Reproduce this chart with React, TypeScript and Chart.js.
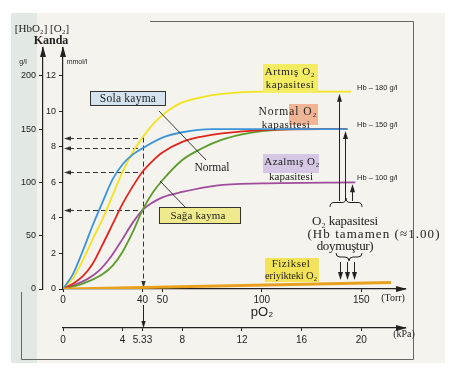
import React, { useEffect, useRef } from 'react';
import { Chart, registerables } from 'chart.js';

Chart.register(...registerables);

// ---- tick labels ----
const torrTickValues = [0, 40, 50, 100, 150];
const kpaTickValues = [0, 4, 5.33, 8, 12, 16, 20];
const glTickValues = [0, 50, 100, 150, 200];
const mmolTickValues = [0, 2, 4, 6, 8, 10, 12];

// ---- series (x: pO2 in Torr, y: g/l) ----
const artmisTorr = [0, 5, 10, 15, 20, 25, 30, 35, 40, 45, 50, 55, 60, 70, 80, 100, 145];
const artmisGl = [0, 10, 27, 47, 66, 88, 110, 128, 142, 154, 163, 170, 175, 180, 183, 185, 185];

const solaTorr = [0, 5, 10, 15, 20, 25, 30, 35, 40, 50, 60, 75, 143];
const solaGl = [0, 14, 36, 60, 82, 103, 117, 126, 132, 142, 147, 150, 150];

const normalTorr = [0, 5, 10, 15, 20, 25, 30, 35, 40, 45, 50, 60, 70, 80, 100, 143];
const normalGl = [0, 5, 12, 24, 42, 61, 80, 96, 110, 120, 128, 138, 143, 146, 149, 150];

const sagaTorr = [0, 10, 20, 25, 30, 35, 40, 45, 50, 60, 70, 80, 90, 100, 115, 143];
const sagaGl = [0, 5, 14, 22, 35, 53, 74, 90, 102, 121, 132, 140, 145, 148, 150, 150];

const azalmisTorr = [0, 6, 12, 18, 24, 30, 35, 40, 45, 50, 60, 77, 100, 147];
const azalmisGl = [0, 4, 9, 17, 30, 47, 62, 74, 81, 86, 91, 97, 99, 100];

const fizikselTorr = [0, 165];
const fizikselGl = [0, 6];

const hbLabels = ['Hb – 180 g/l', 'Hb – 150 g/l', 'Hb – 100 g/l'];
const capacityArrowTorr = [139, 142, 145.5];
const guideTorr = 40;

const TORR_MAX = 172;
const TORR_PER_KPA = 7.5;
const GL_MAX = 226;
const GL_PER_MMOL = 16.67;

const INK = '#222';
const SERIF = '"Liberation Serif", "DejaVu Serif", serif';
const SANS = '"Liberation Sans", Arial, sans-serif';

function pts(xs: number[], ys: number[]) {
  return xs.map((x, i) => ({ x, y: ys[i] }));
}

function valueAt(xs: number[], ys: number[], x: number) {
  for (let i = 0; i < xs.length - 1; i++) {
    if (x >= xs[i] && x <= xs[i + 1]) {
      const t = (x - xs[i]) / (xs[i + 1] - xs[i]);
      return ys[i] + t * (ys[i + 1] - ys[i]);
    }
  }
  return ys[ys.length - 1];
}

function arrowHead(ctx: CanvasRenderingContext2D, x: number, y: number, dir: string, len = 8, half = 2.5) {
  ctx.beginPath();
  ctx.moveTo(x, y);
  if (dir === 'up') { ctx.lineTo(x - half, y + len); ctx.lineTo(x + half, y + len); }
  if (dir === 'down') { ctx.lineTo(x - half, y - len); ctx.lineTo(x + half, y - len); }
  if (dir === 'left') { ctx.lineTo(x + len, y - half); ctx.lineTo(x + len, y + half); }
  if (dir === 'right') { ctx.lineTo(x - len, y - half); ctx.lineTo(x - len, y + half); }
  ctx.closePath();
  ctx.fill();
}

function txt(ctx: CanvasRenderingContext2D, s: string, x: number, y: number, font: string, align: CanvasTextAlign = 'center', width?: number, color = INK) {
  ctx.font = font;
  ctx.textAlign = align;
  ctx.textBaseline = 'middle';
  ctx.fillStyle = color;
  const c: any = ctx;
  if (width && 'letterSpacing' in c) {
    const w = ctx.measureText(s).width;
    const sp = Math.max(-0.5, Math.min(1.2, (width - w) / Math.max(1, s.length - 1)));
    c.letterSpacing = sp.toFixed(2) + 'px';
  }
  ctx.fillText(s, x, y);
  if ('letterSpacing' in c) c.letterSpacing = '0px';
}

function brace(ctx: CanvasRenderingContext2D, x1: number, x2: number, y: number, h: number, up: boolean) {
  const m = (x1 + x2) / 2;
  const d = up ? -1 : 1;
  const q = h / 2;
  ctx.beginPath();
  ctx.moveTo(x1, y);
  ctx.quadraticCurveTo(x1, y + d * q, x1 + 4, y + d * q);
  ctx.lineTo(m - 4, y + d * q);
  ctx.quadraticCurveTo(m, y + d * q, m, y + d * h);
  ctx.quadraticCurveTo(m, y + d * q, m + 4, y + d * q);
  ctx.lineTo(x2 - 4, y + d * q);
  ctx.quadraticCurveTo(x2, y + d * q, x2, y);
  ctx.stroke();
}

function box(ctx: CanvasRenderingContext2D, x: number, y: number, w: number, h: number, fill: string, border?: string) {
  ctx.fillStyle = fill;
  ctx.fillRect(x, y, w, h);
  if (border) {
    ctx.strokeStyle = border;
    ctx.lineWidth = 1;
    ctx.strokeRect(x + 0.5, y + 0.5, w - 1, h - 1);
  }
}

const decoPlugin = {
  id: 'deco',
  beforeDraw(chart: any) {
    const ctx: CanvasRenderingContext2D = chart.ctx;
    ctx.save();
    ctx.fillStyle = '#ffffff';
    ctx.fillRect(0, 0, chart.width, chart.height);
    ctx.fillStyle = '#f4f3ee';
    ctx.fillRect(11, 13, 434, 350);
    ctx.fillStyle = '#e2e8e3';
    ctx.fillRect(11, 13, 26, 350);
    ctx.strokeStyle = '#666';
    ctx.lineWidth = 1;
    ctx.beginPath();
    ctx.moveTo(150, 21.5); ctx.lineTo(413.5, 21.5); ctx.lineTo(413.5, 359.5); ctx.lineTo(21.5, 359.5); ctx.lineTo(21.5, 292);
    ctx.stroke();
    ctx.restore();
  },
  beforeDatasetsDraw(chart: any) {
    const ctx: CanvasRenderingContext2D = chart.ctx;
    const xs = chart.scales.x, yg = chart.scales.yg;
    const X = (v: number) => xs.getPixelForValue(v);
    const Y = (v: number) => yg.getPixelForValue(v);
    const levels = [
      valueAt(artmisTorr, artmisGl, guideTorr),
      valueAt(solaTorr, solaGl, guideTorr),
      valueAt(normalTorr, normalGl, guideTorr),
      valueAt(sagaTorr, sagaGl, guideTorr),
    ];
    ctx.save();
    ctx.strokeStyle = '#333';
    ctx.fillStyle = '#333';
    ctx.lineWidth = 1;
    ctx.setLineDash([5, 3]);
    const gx = Math.round(X(guideTorr)) + 0.5;
    levels.forEach((g) => {
      const y = Math.round(Y(g)) + 0.5;
      ctx.beginPath();
      ctx.moveTo(X(0) + 6, y);
      ctx.lineTo(gx, y);
      ctx.stroke();
    });
    ctx.beginPath();
    ctx.moveTo(gx, Y(Math.max(...levels)));
    ctx.lineTo(gx, Y(0) - 4);
    ctx.stroke();
    ctx.setLineDash([]);
    levels.forEach((g) => arrowHead(ctx, X(0) + 1, Math.round(Y(g)) + 0.5, 'left', 7, 2.2));
    arrowHead(ctx, gx, Y(0) - 1, 'down', 7, 2.2);
    ctx.restore();
  },
  afterDraw(chart: any) {
    const ctx: CanvasRenderingContext2D = chart.ctx;
    const xs = chart.scales.x, xk = chart.scales.xk, yg = chart.scales.yg, ym = chart.scales.ym;
    const area = chart.chartArea;
    const X = (v: number) => xs.getPixelForValue(v);
    const Y = (v: number) => yg.getPixelForValue(v);
    ctx.save();
    ctx.fillStyle = INK;
    ctx.strokeStyle = INK;
    ctx.lineWidth = 1;

    // axis arrows
    arrowHead(ctx, yg.right, area.top - 2, 'up', 11, 3);
    arrowHead(ctx, ym.right, area.top - 2, 'up', 11, 3);
    arrowHead(ctx, area.right + 2, xs.top, 'right', 11, 3);
    arrowHead(ctx, area.right + 2, xk.top, 'right', 11, 3);

    // x=40 guide between the two x axes
    const gx = Math.round(X(guideTorr)) + 0.5;
    ctx.beginPath();
    ctx.moveTo(gx, xs.top + 16);
    ctx.lineTo(gx, xk.top - 2);
    ctx.stroke();
    arrowHead(ctx, gx, xk.top, 'down', 7, 2.2);

    // axis headers
    txt(ctx, '[HbO₂] [O₂]', 42, 29, `11px ${SERIF}`, 'center');
    txt(ctx, 'Kanda', 51, 41, `bold 12px ${SERIF}`, 'center');
    txt(ctx, 'g/l', 23, 62, `7px ${SANS}`, 'center');
    txt(ctx, 'mmol/l', 77, 62, `7px ${SANS}`, 'center');
    txt(ctx, '(Torr)', 393, 298, `10px ${SERIF}`, 'center');
    txt(ctx, '(kPa)', 404, 334, `10px ${SERIF}`, 'center');
    txt(ctx, 'pO₂', 262, 312, `13px ${SANS}`, 'center');

    // boxes
    box(ctx, 90, 91, 76, 15, '#d5e3ef', '#333');
    box(ctx, 159, 207, 82, 17, '#efea8e', '#333');
    box(ctx, 263, 64, 55, 29, '#f4ec62');
    box(ctx, 289, 104, 29, 21, '#f0b597');
    box(ctx, 263, 154, 56, 19, '#d6c7e4');
    box(ctx, 265, 258, 54, 24, '#f3e35a');

    // leader lines
    ctx.strokeStyle = INK;
    ctx.lineWidth = 0.9;
    ctx.beginPath();
    ctx.moveTo(159, 111); ctx.lineTo(206, 160);
    ctx.moveTo(186, 208); ctx.lineTo(160, 181);
    ctx.stroke();

    txt(ctx, 'Sola kayma', 128, 98.5, `11.5px ${SERIF}`, 'center', 56);
    txt(ctx, 'Normal', 212, 168, `11.5px ${SERIF}`, 'center', 35);
    txt(ctx, 'Sağa kayma', 198, 216, `11px ${SERIF}`, 'center', 55);

    txt(ctx, 'Artmış O₂', 290, 72, `11px ${SERIF}`, 'center', 50);
    txt(ctx, 'kapasitesi', 290, 85, `11px ${SERIF}`, 'center', 48);
    txt(ctx, 'Normal O₂', 288, 112, `11.5px ${SERIF}`, 'center', 58);
    txt(ctx, 'kapasitesi', 286, 125, `11px ${SERIF}`, 'center', 48);
    txt(ctx, 'Azalmış O₂', 292, 162, `11px ${SERIF}`, 'center', 55);
    txt(ctx, 'kapasitesi', 291, 177, `11px ${SERIF}`, 'center', 44);
    txt(ctx, 'Fiziksel', 291, 264, `11px ${SERIF}`, 'center', 38);
    txt(ctx, 'eriyikteki O₂', 291, 276, `10.5px ${SERIF}`, 'center', 52);

    // Hb labels at plateau levels
    const plateaus = [artmisGl[artmisGl.length - 1], normalGl[normalGl.length - 1], azalmisGl[azalmisGl.length - 1]];
    plateaus.forEach((g, i) => txt(ctx, hbLabels[i], 357, Y(g) - 4, `7.5px ${SANS}`, 'left'));

    // capacity arrows
    ctx.strokeStyle = INK;
    ctx.fillStyle = INK;
    ctx.lineWidth = 1;
    plateaus.forEach((g, i) => {
      const x = Math.round(X(capacityArrowTorr[i])) + 0.5;
      ctx.beginPath();
      ctx.moveTo(x, 201);
      ctx.lineTo(x, Y(g) + 6);
      ctx.stroke();
      arrowHead(ctx, x, Y(g) + 2, 'up', 8, 2.5);
    });
    brace(ctx, 330, 362, 207, 9, true);

    txt(ctx, 'O₂ kapasitesi', 345, 222, `13px ${SERIF}`, 'center', 66);
    txt(ctx, '(Hb tamamen (≈1.00)', 374, 235, `13px ${SERIF}`, 'center', 132);
    txt(ctx, 'doymuştur)', 345, 247, `13px ${SERIF}`, 'center', 57);

    brace(ctx, 336, 362, 253, 8, false);
    [340, 347, 354].forEach((x) => {
      ctx.beginPath();
      ctx.moveTo(x + 0.5, 262);
      ctx.lineTo(x + 0.5, 274);
      ctx.stroke();
      arrowHead(ctx, x + 0.5, 280, 'down', 8, 2.5);
    });

    ctx.restore();
  },
};

function ds(label: string, xs: number[], ys: number[], color: string, width: number) {
  return {
    label,
    data: pts(xs, ys),
    borderColor: color,
    backgroundColor: color,
    borderWidth: width,
    pointRadius: 0,
    fill: false,
    tension: 0.4,
    cubicInterpolationMode: 'monotone' as const,
    xAxisID: 'x',
    yAxisID: 'yg',
  };
}

const axisGrid = { display: true, drawOnChartArea: false, drawTicks: true, tickLength: 4, color: INK, lineWidth: 1 };
const axisBorder = { display: true, color: INK, width: 1.2 };

export default function App() {
  const ref = useRef<HTMLCanvasElement | null>(null);
  useEffect(() => {
    document.body.style.margin = '0';
    if (!ref.current) return;
    const chart = new Chart(ref.current, {
      type: 'line',
      data: {
        datasets: [
          ds('Fiziksel eriyikteki O₂', fizikselTorr, fizikselGl, '#e9a01c', 3),
          ds('Sola kayma', solaTorr, solaGl, '#3c93d8', 1.8),
          ds('Normal', normalTorr, normalGl, '#e0261c', 1.8),
          ds('Artmış O₂ kapasitesi', artmisTorr, artmisGl, '#f4e31c', 1.8),
          ds('Sağa kayma', sagaTorr, sagaGl, '#5c9a2c', 1.8),
          ds('Azalmış O₂ kapasitesi', azalmisTorr, azalmisGl, '#a04c9c', 1.8),
        ],
      },
      options: {
        responsive: false,
        animation: false,
        devicePixelRatio: 1,
        layout: { padding: { left: 10, top: 48, right: 55, bottom: 22 } },
        plugins: { legend: { display: false }, tooltip: { enabled: false } },
        scales: {
          x: {
            type: 'linear', position: 'bottom', weight: 0, min: 0, max: TORR_MAX,
            afterBuildTicks: (s: any) => { s.ticks = torrTickValues.map((v) => ({ value: v })); },
            afterFit: (s: any) => { s.height = 39; },
            grid: { ...axisGrid, tickLength: 3 },
            border: axisBorder,
            ticks: { autoSkip: false, maxRotation: 0, padding: 2, color: INK, font: { family: SANS, size: 10 }, callback: (v: any) => String(v) },
          },
          xk: {
            type: 'linear', position: 'bottom', weight: 1, min: 0, max: TORR_MAX / TORR_PER_KPA,
            afterBuildTicks: (s: any) => { s.ticks = kpaTickValues.map((v) => ({ value: v })); },
            afterFit: (s: any) => { s.height = 20; },
            grid: { ...axisGrid, tickLength: 3 },
            border: axisBorder,
            ticks: { autoSkip: false, maxRotation: 0, padding: 3, color: INK, font: { family: SANS, size: 10 }, callback: (v: any) => String(v) },
          },
          yg: {
            type: 'linear', position: 'left', weight: 1, min: 0, max: GL_MAX,
            afterBuildTicks: (s: any) => { s.ticks = glTickValues.map((v) => ({ value: v })); },
            afterFit: (s: any) => { s.width = 33; },
            grid: axisGrid,
            border: axisBorder,
            ticks: { autoSkip: false, padding: 3, color: INK, font: { family: SANS, size: 9 }, callback: (v: any) => String(v) },
          },
          ym: {
            type: 'linear', position: 'left', weight: 0, min: 0, max: GL_MAX / GL_PER_MMOL,
            afterBuildTicks: (s: any) => { s.ticks = mmolTickValues.map((v) => ({ value: v })); },
            afterFit: (s: any) => { s.width = 20; },
            grid: axisGrid,
            border: axisBorder,
            ticks: { autoSkip: false, padding: 3, color: INK, font: { family: SANS, size: 9 }, callback: (v: any) => String(v) },
          },
        },
      } as any,
      plugins: [decoPlugin],
    });
    return () => chart.destroy();
  }, []);
  return (
    <div style={{ width: 460, height: 370 }}>
      <canvas ref={ref} width={460} height={370} style={{ display: 'block' }} />
    </div>
  );
}
